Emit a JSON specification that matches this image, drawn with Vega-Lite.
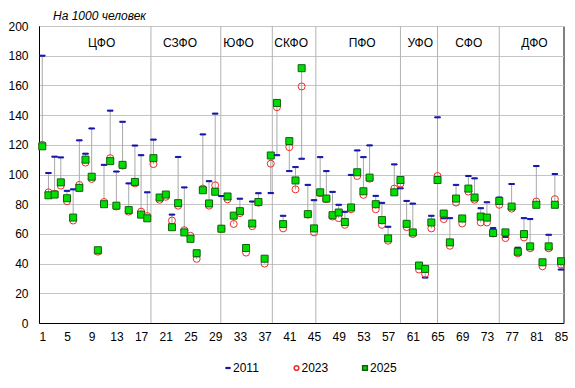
{
  "$schema": "https://vega.github.io/schema/vega-lite/v6.json",
  "width": 524.5,
  "height": 297,
  "autosize": {"type": "none"},
  "padding": {"left": 39, "top": 26, "right": 11, "bottom": 65},
  "background": "white",
  "title": {"text": "На 1000 человек", "anchor": "start", "frame": "group", "dx": 14, "offset": -12, "baseline": "alphabetic", "font": "Liberation Sans", "fontSize": 12, "fontStyle": "italic", "fontWeight": "normal", "color": "black"},
  "config": {
    "view": {"stroke": "black", "strokeWidth": 1},
    "font": "Liberation Sans",
    "axis": {"labelFont": "Liberation Sans", "labelFontSize": 12, "labelColor": "black", "domainColor": "black", "ticks": false, "title": null, "gridColor": "#c4c4c4", "labelOverlap": false}
  },
  "datasets": {
    "regions": [
      {"r":1,"2011":180,"2023":120,"2025":119},
      {"r":2,"2011":101,"2023":88,"2025":86},
      {"r":3,"2011":112,"2023":87,"2025":86.5},
      {"r":4,"2011":111.5,"2023":92.5,"2025":94.7},
      {"r":5,"2011":89,"2023":82,"2025":84},
      {"r":6,"2011":90,"2023":69,"2025":71},
      {"r":7,"2011":123,"2023":93,"2025":91},
      {"r":8,"2011":114,"2023":108,"2025":110},
      {"r":9,"2011":131,"2023":97,"2025":98.5},
      {"r":10,"2011":49,"2023":48,"2025":49},
      {"r":11,"2011":106.5,"2023":81.5,"2025":80},
      {"r":12,"2011":143,"2023":111,"2025":109},
      {"r":13,"2011":102,"2023":78.5,"2025":79},
      {"r":14,"2011":135.5,"2023":106,"2025":106.5},
      {"r":15,"2011":94,"2023":75,"2025":76},
      {"r":16,"2011":119.5,"2023":94,"2025":95},
      {"r":17,"2011":113,"2023":75,"2025":73},
      {"r":18,"2011":88,"2023":72,"2025":70.5},
      {"r":19,"2011":123.5,"2023":107,"2025":111},
      {"r":20,"2011":84,"2023":83,"2025":84.5},
      {"r":21,"2011":86,"2023":85,"2025":86.5},
      {"r":22,"2011":73,"2023":69,"2025":64.5},
      {"r":23,"2011":111.8,"2023":79,"2025":80.7},
      {"r":24,"2011":91.3,"2023":62.5,"2025":61},
      {"r":25,"2011":57,"2023":58.7,"2025":56.7},
      {"r":26,"2011":45,"2023":43.2,"2025":47},
      {"r":27,"2011":127,"2023":90.5,"2025":89.4},
      {"r":28,"2011":95.5,"2023":79,"2025":80.5},
      {"r":29,"2011":141,"2023":92.7,"2025":88.4},
      {"r":30,"2011":85.5,"2023":63.4,"2025":63.5},
      {"r":31,"2011":86,"2023":83.3,"2025":85.2},
      {"r":32,"2011":72,"2023":66.7,"2025":72.3},
      {"r":33,"2011":83.7,"2023":74,"2025":75.3},
      {"r":34,"2011":50,"2023":47.4,"2025":50.5},
      {"r":35,"2011":81.8,"2023":65.2,"2025":67},
      {"r":36,"2011":87.4,"2023":81,"2025":81.5},
      {"r":37,"2011":42,"2023":40,"2025":43.3},
      {"r":38,"2011":87.5,"2023":107.3,"2025":112.8},
      {"r":39,"2011":113,"2023":145.3,"2025":148.2},
      {"r":40,"2011":72.2,"2023":63.7,"2025":66.6},
      {"r":41,"2011":102.3,"2023":118.4,"2025":122.5},
      {"r":42,"2011":105,"2023":90,"2025":96},
      {"r":43,"2011":110.6,"2023":159.3,"2025":171.6},
      {"r":44,"2011":93,"2023":73,"2025":73.3},
      {"r":45,"2011":82.7,"2023":61,"2025":63.7},
      {"r":46,"2011":111.7,"2023":87.5,"2025":88},
      {"r":47,"2011":102.3,"2023":83.4,"2025":83.8},
      {"r":48,"2011":88.3,"2023":71.7,"2025":72.6},
      {"r":49,"2011":79.6,"2023":70.6,"2025":74.4},
      {"r":50,"2011":74.9,"2023":66.1,"2025":68},
      {"r":51,"2011":99.7,"2023":76.6,"2025":77.8},
      {"r":52,"2011":116.2,"2023":99,"2025":101.5},
      {"r":53,"2011":111.7,"2023":86.3,"2025":88.7},
      {"r":54,"2011":119.6,"2023":97.2,"2025":97.9},
      {"r":55,"2011":85.6,"2023":76.6,"2025":80},
      {"r":56,"2011":80.9,"2023":66.1,"2025":69.3},
      {"r":57,"2011":64.8,"2023":55.4,"2025":57},
      {"r":58,"2011":106.8,"2023":90.5,"2025":88},
      {"r":59,"2011":90.7,"2023":93.9,"2025":96.3},
      {"r":60,"2011":82.2,"2023":64.6,"2025":66.8},
      {"r":61,"2011":80.4,"2023":59.9,"2025":61},
      {"r":62,"2011":37,"2023":36,"2025":38.7},
      {"r":63,"2011":30.6,"2023":33,"2025":36.4},
      {"r":64,"2011":72.2,"2023":63.7,"2025":67.7},
      {"r":65,"2011":138.5,"2023":99,"2025":96.3},
      {"r":66,"2011":70.5,"2023":70,"2025":73.7},
      {"r":67,"2011":70.6,"2023":52,"2025":54.3},
      {"r":68,"2011":93,"2023":81.1,"2025":83.8},
      {"r":69,"2011":70,"2023":67,"2025":70.4},
      {"r":70,"2011":99,"2023":88.5,"2025":90.5},
      {"r":71,"2011":97.4,"2023":83,"2025":84.5},
      {"r":72,"2011":77.3,"2023":67.7,"2025":71.7},
      {"r":73,"2011":81.3,"2023":67.7,"2025":71},
      {"r":74,"2011":63.9,"2023":60.3,"2025":60.6},
      {"r":75,"2011":84.5,"2023":79.6,"2025":82.2},
      {"r":76,"2011":58,"2023":57.2,"2025":61},
      {"r":77,"2011":93.6,"2023":77,"2025":78.4},
      {"r":78,"2011":50.7,"2023":46.9,"2025":48},
      {"r":79,"2011":70.6,"2023":57.6,"2025":59.9},
      {"r":80,"2011":70,"2023":50.3,"2025":51.6},
      {"r":81,"2011":105.7,"2023":81.8,"2025":79.6},
      {"r":82,"2011":40,"2023":38.2,"2025":40.9},
      {"r":83,"2011":59.4,"2023":50.3,"2025":51.6},
      {"r":84,"2011":100.3,"2023":83.4,"2025":79.6},
      {"r":85,"2011":36,"2023":39.3,"2025":41.6}
    ],
    "seps": [{"s":18.6},{"s":29.9},{"s":38.25},{"s":45.3},{"s":59},{"s":65},{"s":75}],
    "districts": [
      {"name":"ЦФО","c":10.6},{"name":"СЗФО","c":23.3},{"name":"ЮФО","c":32.8},{"name":"СКФО","c":41.3},
      {"name":"ПФО","c":52.8},{"name":"УФО","c":62.2},{"name":"СФО","c":70.05},{"name":"ДФО","c":80.7}
    ]
  },
  "layer": [
    {
      "data": {"name": "seps"},
      "mark": {"type": "rule", "color": "#b4b4b4", "strokeWidth": 1},
      "encoding": {
        "x": {"field": "s", "type": "quantitative", "scale": {"domain": [0.47, 85.4], "nice": false, "zero": false},
          "axis": {"values": [1,5,9,13,17,21,25,29,33,37,41,45,49,53,57,61,65,69,73,77,81,85], "grid": false, "labelPadding": 8, "labelFlush": false, "labelOverlap": false}}
      }
    },
    {
      "data": {"name": "regions"},
      "transform": [
        {"fold": ["2011","2023","2025"], "as": ["series","value"]},
        {"aggregate": [{"op":"min","field":"value","as":"lo"},{"op":"max","field":"value","as":"hi"}], "groupby": ["r"]}
      ],
      "mark": {"type": "rule", "color": "#a8a8a8", "strokeWidth": 1},
      "encoding": {
        "x": {"field": "r", "type": "quantitative", "scale": {"domain": [0.47, 85.4], "nice": false, "zero": false},
          "axis": {"values": [1,5,9,13,17,21,25,29,33,37,41,45,49,53,57,61,65,69,73,77,81,85], "grid": false, "labelPadding": 8, "labelFlush": false, "labelOverlap": false}},
        "y": {"field": "lo", "type": "quantitative", "scale": {"domain": [0, 200], "nice": false},
          "axis": {"values": [0,20,40,60,80,100,120,140,160,180,200], "grid": true, "labelPadding": 11, "labelOverlap": false}},
        "y2": {"field": "hi"}
      }
    },
    {
      "data": {"name": "regions"},
      "transform": [{"fold": ["2011","2023","2025"], "as": ["series","value"]}],
      "mark": {"type": "point", "size": 49, "strokeWidth": 1, "opacity": 1, "filled": false},
      "encoding": {
        "x": {"field": "r", "type": "quantitative", "scale": {"domain": [0.47, 85.4], "nice": false, "zero": false},
          "axis": {"values": [1,5,9,13,17,21,25,29,33,37,41,45,49,53,57,61,65,69,73,77,81,85], "grid": false, "labelPadding": 8, "labelFlush": false, "labelOverlap": false}},
        "y": {"field": "value", "type": "quantitative", "scale": {"domain": [0, 200], "nice": false},
          "axis": {"values": [0,20,40,60,80,100,120,140,160,180,200], "grid": true, "labelPadding": 11, "labelOverlap": false}},
        "shape": {"field": "series", "type": "nominal", "scale": {"domain": ["2011","2023","2025"], "range": ["M-0.8,-0.15H0.8V0.15H-0.8Z", "circle", "square"]},
          "legend": {"title": null, "orient": "none", "direction": "horizontal", "legendX": 183, "legendY": 336, "symbolSize": 22, "labelFont": "Liberation Sans", "labelFontSize": 12, "labelColor": "black", "labelOffset": -1, "columnPadding": 30.5, "padding": 0, "gridAlign": "all",
            "encode": {"symbols": {"update": {"size": {"value": 22}}}}}},
        "fill": {"field": "series", "type": "nominal", "scale": {"domain": ["2011","2023","2025"], "range": ["#1414a8", "transparent", "#00dd00"]}},
        "stroke": {"field": "series", "type": "nominal", "scale": {"domain": ["2011","2023","2025"], "range": ["#1414a8", "#e8302a", "#106010"]}}
      }
    },
    {
      "data": {"name": "districts"},
      "mark": {"type": "text", "font": "Liberation Sans", "fontSize": 12, "color": "black", "baseline": "middle", "align": "center"},
      "encoding": {
        "x": {"field": "c", "type": "quantitative", "scale": {"domain": [0.47, 85.4], "nice": false, "zero": false},
          "axis": {"values": [1,5,9,13,17,21,25,29,33,37,41,45,49,53,57,61,65,69,73,77,81,85], "grid": false, "labelPadding": 8, "labelFlush": false, "labelOverlap": false}},
        "y": {"datum": 188.7, "type": "quantitative", "scale": {"domain": [0, 200], "nice": false},
          "axis": {"values": [0,20,40,60,80,100,120,140,160,180,200], "grid": true, "labelPadding": 11, "labelOverlap": false}},
        "text": {"field": "name"}
      }
    }
  ]
}
